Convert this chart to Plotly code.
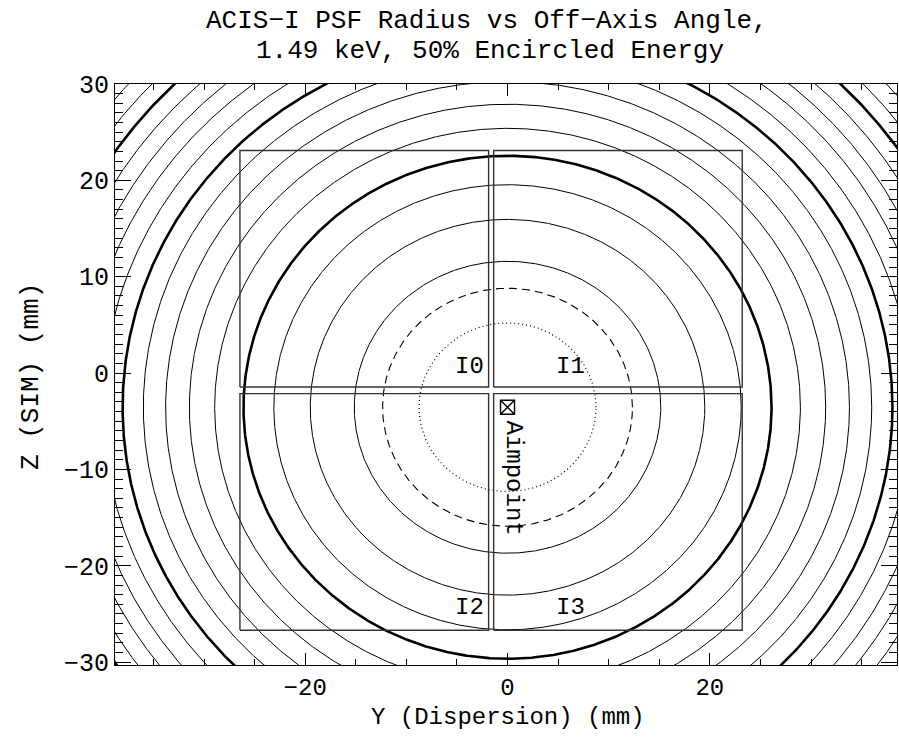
import numpy as np
import plotly.graph_objects as go

# 50% encircled-energy PSF radius contours at 1.49 keV (arcsec) and the
# off-axis distance from the aimpoint at which each is reached (mm)
psf_levels = [1, 1.5, 2, 3, 4, 5, 6, 7, 8, 9, 10, 11, 12, 13, 14, 15, 16, 17]
psf_radius_mm = [8.75, 12.35, 15.15, 19.5, 23.1, 26.1, 28.95, 31.45, 33.8,
                 36.0, 38.05, 40.0, 41.9, 43.6, 45.3, 47.0, 48.6, 50.3]

# Aimpoint in SIM coordinates (mm)
aimpoint_y = 0.0
aimpoint_z = -3.55

# ACIS-I chip outlines (mm)
chip_names = ["I0", "I1", "I2", "I3"]
chip_y_min = [-26.45, -1.37, -26.45, -1.37]
chip_y_max = [-1.87, 23.2, -1.87, 23.2]
chip_z_min = [-1.45, -1.45, -26.7, -26.7]
chip_z_max = [23.1, 23.1, -2.13, -2.13]

FONT = "Liberation Mono"
W, H = 899, 741
ML, MR, MT, MB = 115, 2, 84, 76
PW, PH = W - ML - MR, H - MT - MB


def paper_x(px):
    return (px - ML) / PW


def paper_y(py):
    return (H - MB - py) / PH


fig = go.Figure()

theta = np.linspace(0, 2 * np.pi, 1441)
for level, r in zip(psf_levels, psf_radius_mm):
    if level == 1:
        line = dict(color="black", width=1.2, dash="1px,3px")
    elif level == 1.5:
        line = dict(color="black", width=1.1, dash="8px,5px")
    elif level % 5 == 0:
        line = dict(color="black", width=2.6)
    else:
        line = dict(color="black", width=1.0)
    fig.add_trace(go.Scatter(
        x=aimpoint_y + r * np.cos(theta),
        y=aimpoint_z + r * np.sin(theta),
        mode="lines", line=line, hoverinfo="skip", showlegend=False,
    ))

for name, y0, y1, z0, z1 in zip(chip_names, chip_y_min, chip_y_max,
                                chip_z_min, chip_z_max):
    fig.add_trace(go.Scatter(
        x=[y0, y1, y1, y0, y0], y=[z0, z0, z1, z1, z0],
        mode="lines", line=dict(color="#333333", width=1.4),
        name=name, hoverinfo="skip", showlegend=False,
    ))

fig.add_trace(go.Scatter(
    x=[aimpoint_y], y=[aimpoint_z], mode="markers",
    marker=dict(symbol="square-x-open", size=14, color="black",
                line=dict(width=1.4, color="black")),
    hoverinfo="skip", showlegend=False,
))

# Chip labels
label_pos = {"I0": (-3.8, 0.68), "I1": (6.2, 0.68),
             "I2": (-3.8, -24.35), "I3": (6.2, -24.35)}
annotations = []
for name in chip_names:
    lx, lz = label_pos[name]
    annotations.append(dict(x=lx, y=lz, xref="x", yref="y", text=name,
                            showarrow=False, xanchor="center", yanchor="middle",
                            font=dict(family=FONT, size=24, color="black")))

annotations.append(dict(x=aimpoint_y + 0.6, y=aimpoint_z - 7.35, xref="x", yref="y",
                        text="Aimpoint", textangle=90, showarrow=False,
                        xanchor="center", yanchor="middle",
                        font=dict(family=FONT, size=24, color="black")))

# Title lines and axis titles
annotations += [
    dict(x=paper_x(487), y=paper_y(21), xref="paper", yref="paper",
         text="ACIS\u2212I PSF Radius vs Off\u2212Axis Angle,", showarrow=False,
         xanchor="center", yanchor="middle",
         font=dict(family=FONT, size=26, color="black")),
    dict(x=paper_x(490), y=paper_y(50.5), xref="paper", yref="paper",
         text="1.49 keV, 50% Encircled Energy", showarrow=False,
         xanchor="center", yanchor="middle",
         font=dict(family=FONT, size=26, color="black")),
    dict(x=paper_x(508), y=paper_y(717), xref="paper", yref="paper",
         text="Y (Dispersion) (mm)", showarrow=False,
         xanchor="center", yanchor="middle",
         font=dict(family=FONT, size=24, color="black")),
    dict(x=paper_x(31), y=paper_y(377), xref="paper", yref="paper",
         text="Z (SIM) (mm)", showarrow=False, textangle=-90,
         xanchor="center", yanchor="middle",
         font=dict(family=FONT, size=26, color="black")),
]

fig.update_layout(
    width=W, height=H,
    margin=dict(l=ML, r=MR, t=MT, b=MB),
    paper_bgcolor="white", plot_bgcolor="white",
    font=dict(family=FONT, size=24, color="black"),
    annotations=annotations,
)

fig.update_xaxes(
    range=[-38.8, 38.5], showgrid=False, zeroline=False,
    showline=True, linecolor="black", linewidth=1, mirror="allticks",
    ticks="inside", ticklen=12, tickwidth=1, tickcolor="black",
    dtick=20, tick0=0,
    minor=dict(dtick=5, ticks="inside", ticklen=6, tickcolor="black", tickwidth=1),
    tickfont=dict(family=FONT, size=24),
)
fig.update_yaxes(
    range=[-30.3, 30.0], showgrid=False, zeroline=False,
    showline=True, linecolor="black", linewidth=1, mirror="allticks",
    ticks="inside", ticklen=16, tickwidth=1, tickcolor="black",
    dtick=10, tick0=0,
    minor=dict(dtick=1, ticks="inside", ticklen=8, tickcolor="black", tickwidth=1),
    tickfont=dict(family=FONT, size=25),
)

fig.write_html("out.html")
